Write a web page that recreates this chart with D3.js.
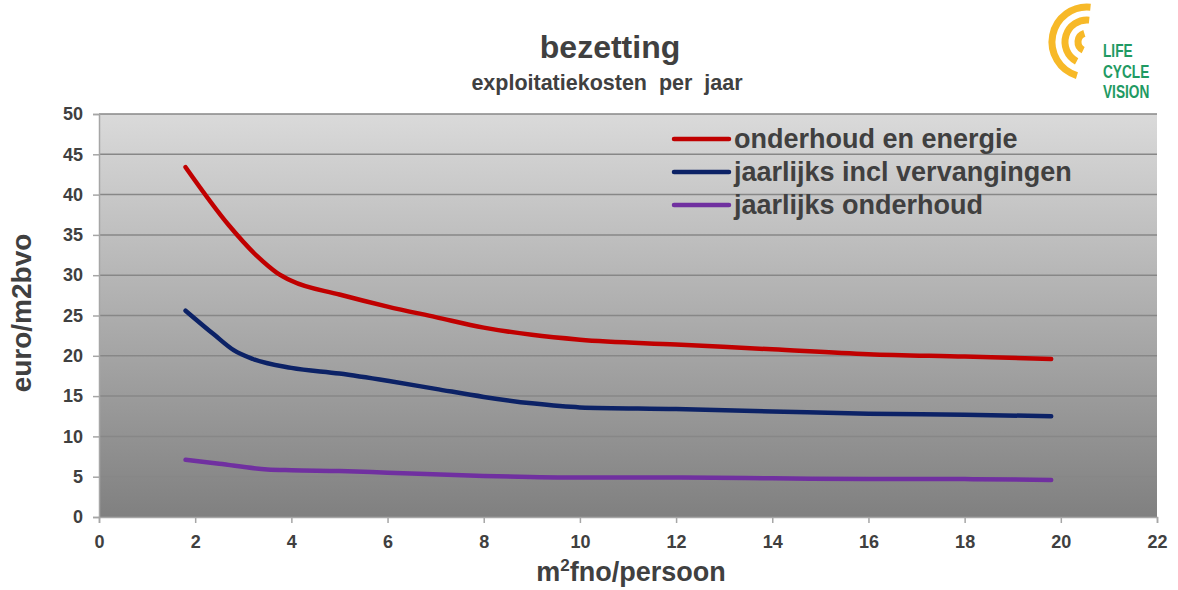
<!DOCTYPE html>
<html>
<head>
<meta charset="utf-8">
<script src="https://cdn.jsdelivr.net/npm/d3@7"></script>
<style>
  body { margin: 0; background: #fff; }
  text { font-family: Arial, "Liberation Sans", sans-serif; }
</style>
</head>
<body>
<div id="chart"></div>
<script>
// series values [m2 fno per persoon, euro per m2 bvo]
const onderhoudEnergie = [
  [1.8, 43.4], [2.7, 36.2], [3.3, 32.3], [3.7, 30.3], [4, 29.3], [5, 27.6],
  [6, 26.1], [7, 24.8], [8, 23.5], [9, 22.6], [10, 22.0], [12, 21.4],
  [14, 20.8], [16, 20.2], [18, 19.9], [19.8, 19.6]
];
const inclVervangingen = [
  [1.8, 25.6], [2.4, 22.6], [2.8, 20.7], [3.2, 19.6], [4, 18.5], [5, 17.8],
  [6, 16.9], [7, 15.9], [8, 14.9], [9, 14.1], [10, 13.6], [12, 13.4],
  [14, 13.1], [16, 12.8], [18, 12.7], [19.8, 12.5]
];
const jaarlijksOnderhoud = [
  [1.8, 7.1], [2.5, 6.6], [3.5, 5.9], [4, 5.8], [5, 5.7], [6, 5.5], [8, 5.1],
  [10, 4.9], [12, 4.9], [14, 4.8], [16, 4.7], [18, 4.7], [19.8, 4.6]
];
const seriesNames = ["onderhoud en energie", "jaarlijks incl vervangingen", "jaarlijks onderhoud"];
const seriesColors = ["#c00000", "#0c2266", "#7030a0"];
const xTicks = [0, 2, 4, 6, 8, 10, 12, 14, 16, 18, 20, 22];
const yTicks = [0, 5, 10, 15, 20, 25, 30, 35, 40, 45, 50];

const W = 1178, H = 590;
const margin = { top: 114, right: 21, bottom: 73, left: 99 };
const width = W - margin.left - margin.right;
const height = H - margin.top - margin.bottom;

const svg = d3.select("#chart").append("svg")
  .attr("width", W)
  .attr("height", H);

const defs = svg.append("defs");
const grad = defs.append("linearGradient")
  .attr("id", "bg-grad")
  .attr("x1", "0%").attr("y1", "0%")
  .attr("x2", "0%").attr("y2", "100%");
grad.append("stop").attr("offset", "0%").attr("stop-color", "#dadada");
grad.append("stop").attr("offset", "100%").attr("stop-color", "#808080");

const g = svg.append("g")
  .attr("transform", `translate(${margin.left},${margin.top})`);

const x = d3.scaleLinear().domain([0, 22]).range([0, width]);
const y = d3.scaleLinear().domain([0, 50]).range([height, 0]);

g.append("rect")
  .attr("width", width)
  .attr("height", height)
  .style("fill", "url(#bg-grad)");

// gridlines
g.selectAll(".grid")
  .data(yTicks.filter(d => d > 0))
  .enter()
  .append("line")
  .attr("x1", 0)
  .attr("x2", width)
  .attr("y1", d => y(d))
  .attr("y2", d => y(d))
  .style("stroke", "#878787")
  .style("stroke-width", 1.5);

// axes
const yAxis = g.append("g")
  .call(d3.axisLeft(y).tickValues(yTicks).tickSize(6).tickPadding(10));
const xAxis = g.append("g")
  .attr("transform", `translate(0,${height})`)
  .call(d3.axisBottom(x).tickValues(xTicks).tickSize(6).tickPadding(12));

[xAxis, yAxis].forEach(ax => {
  ax.select(".domain").style("stroke", "#a6a6a6").style("stroke-width", 1.5);
  ax.selectAll(".tick line").style("stroke", "#a6a6a6").style("stroke-width", 1.5);
  ax.selectAll(".tick text")
    .style("font-family", "Arial, 'Liberation Sans', sans-serif")
    .style("font-size", "18px")
    .style("font-weight", "bold")
    .style("fill", "#404040");
});

// lines
const line = d3.line()
  .x(d => x(d[0]))
  .y(d => y(d[1]))
  .curve(d3.curveMonotoneX);

[onderhoudEnergie, inclVervangingen, jaarlijksOnderhoud].forEach((s, i) => {
  g.append("path")
    .datum(s)
    .attr("d", line)
    .style("fill", "none")
    .style("stroke", seriesColors[i])
    .style("stroke-width", 4.5)
    .style("stroke-linecap", "round")
    .style("stroke-linejoin", "round");
});

// legend
const legend = svg.append("g").attr("transform", "translate(674,139)");
seriesNames.forEach((name, i) => {
  const row = legend.append("g").attr("transform", `translate(0,${i * 33})`);
  row.append("line")
    .attr("x1", 0).attr("x2", 55)
    .attr("y1", 0).attr("y2", 0)
    .style("stroke", seriesColors[i])
    .style("stroke-width", 4.5)
    .style("stroke-linecap", "round");
  row.append("text")
    .attr("x", 60)
    .attr("y", 9)
    .style("font-size", "27px")
    .style("font-weight", "bold")
    .style("fill", "#404040")
    .text(name);
});

// titles
svg.append("text")
  .attr("x", 610).attr("y", 58)
  .attr("text-anchor", "middle")
  .style("font-size", "32px")
  .style("font-weight", "bold")
  .style("fill", "#404040")
  .text("bezetting");

svg.append("text")
  .attr("x", 607).attr("y", 90)
  .attr("text-anchor", "middle")
  .attr("xml:space", "preserve")
  .style("white-space", "pre")
  .style("font-size", "21.5px")
  .style("font-weight", "bold")
  .style("fill", "#404040")
  .text("exploitatiekosten  per  jaar");

svg.append("text")
  .attr("transform", "translate(31,313) rotate(-90)")
  .attr("text-anchor", "middle")
  .style("font-size", "28px")
  .style("font-weight", "bold")
  .style("fill", "#404040")
  .text("euro/m2bvo");

const xLabel = svg.append("text")
  .attr("x", 631).attr("y", 581)
  .attr("text-anchor", "middle")
  .style("font-size", "27px")
  .style("font-weight", "bold")
  .style("fill", "#404040");
xLabel.append("tspan").text("m");
xLabel.append("tspan").attr("dy", -10).style("font-size", "17px").text("2");
xLabel.append("tspan").attr("dy", 10).text("fno/persoon");

// logo
const logo = svg.append("g").attr("transform", "translate(1087,42)");
[
  { r: 35, a0: -2.85, a1: 0.1 },
  { r: 22, a0: -2.65, a1: 0.1 },
  { r: 9, a0: -2.7, a1: -0.3 }
].forEach(a => {
  logo.append("path")
    .attr("d", d3.arc()({ innerRadius: a.r, outerRadius: a.r, startAngle: a.a0, endAngle: a.a1 }))
    .style("fill", "none")
    .style("stroke", "#f7b928")
    .style("stroke-width", 7)
    .style("stroke-linecap", "round");
});
["LIFE", "CYCLE", "VISION"].forEach((t, i) => {
  svg.append("text")
    .attr("transform", `translate(1103,${57 + i * 20.5}) scale(0.72,1)`)
    .style("font-size", "19px")
    .style("font-weight", "bold")
    .style("fill", "#1f9a63")
    .text(t);
});
</script>
</body>
</html>
